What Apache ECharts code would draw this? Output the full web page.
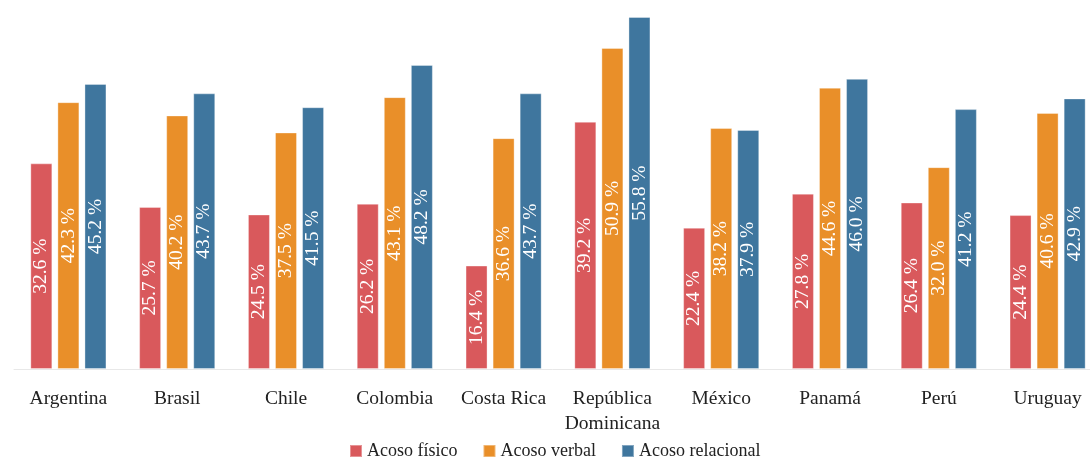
<!DOCTYPE html>
<html>
<head>
<meta charset="utf-8">
<script src="https://cdn.jsdelivr.net/npm/echarts@6/dist/echarts.min.js"></script>
<style>
  html, body { margin: 0; padding: 0; background: #ffffff; }
  #chart { width: 1090px; height: 460px; }
</style>
</head>
<body>
<div id="chart"></div>
<script>
// Países y porcentajes de cada tipo de acoso
const paises = ['Argentina', 'Brasil', 'Chile', 'Colombia', 'Costa Rica',
  'República\nDominicana', 'México', 'Panamá', 'Perú', 'Uruguay'];
const acosoFisico = [32.6, 25.7, 24.5, 26.2, 16.4, 39.2, 22.4, 27.8, 26.4, 24.4];
const acosoVerbal = [42.3, 40.2, 37.5, 43.1, 36.6, 50.9, 38.2, 44.6, 32.0, 40.6];
const acosoRelacional = [45.2, 43.7, 41.5, 48.2, 43.7, 55.8, 37.9, 46.0, 41.2, 42.9];
const nombresSeries = ['Acoso físico', 'Acoso verbal', 'Acoso relacional'];

const fuente = '"Liberation Serif", "DejaVu Serif", serif';
const colores = ['#d9595c', '#e98f29', '#3f769e'];

function serie(nombre, datos, color) {
  return {
    name: nombre,
    type: 'bar',
    data: datos,
    barWidth: 22,
    barGap: '23%',
    itemStyle: { color: color, borderColor: 'rgba(255,255,255,0.35)', borderWidth: 1 },
    label: {
      show: true,
      position: 'inside',
      rotate: 90,
      color: '#ffffff',
      fontFamily: fuente,
      fontSize: 19.5,
      formatter: p => p.value.toFixed(1) + ' %'
    }
  };
}

const chart = echarts.init(document.getElementById('chart'), null, { renderer: 'canvas' });
chart.setOption({
  animation: false,
  backgroundColor: '#ffffff',
  textStyle: { fontFamily: fuente },
  color: colores,
  // the plot area runs slightly past the right edge of the canvas
  grid: { left: 14, width: 1088, top: 0, bottom: 91, outerBoundsMode: 'none' },
  legend: {
    left: 349,
    top: 442,
    padding: 0,
    itemWidth: 12,
    itemHeight: 12,
    itemGap: 25,
    icon: 'rect',
    textStyle: { fontFamily: fuente, fontSize: 18, color: '#222222' },
    data: nombresSeries
  },
  xAxis: {
    type: 'category',
    data: paises,
    axisLine: { show: true, lineStyle: { color: '#e8e8e8', width: 1 } },
    axisTick: { show: false },
    axisLabel: {
      fontFamily: fuente,
      fontSize: 19.5,
      lineHeight: 25,
      color: '#222222',
      margin: 17,
      interval: 0
    }
  },
  yAxis: {
    type: 'value',
    min: 0,
    max: 58.5,
    show: false,
    splitLine: { show: false }
  },
  series: [
    serie(nombresSeries[0], acosoFisico, colores[0]),
    serie(nombresSeries[1], acosoVerbal, colores[1]),
    serie(nombresSeries[2], acosoRelacional, colores[2])
  ]
});
</script>
</body>
</html>
